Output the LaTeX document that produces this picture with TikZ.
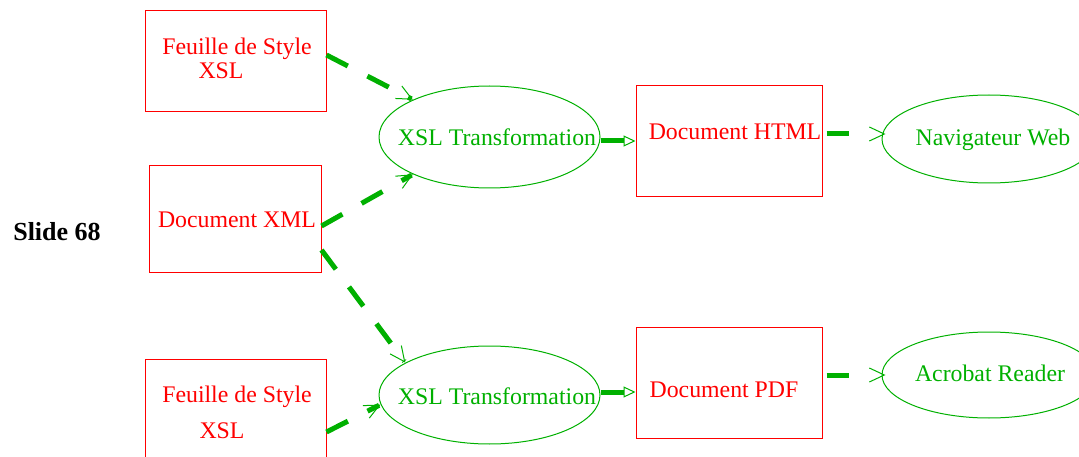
\documentclass[tikz,border=0pt]{standalone}
\usepackage{fontspec}
\setmainfont{Liberation Serif}
\usetikzlibrary{arrows.meta,shapes.geometric}
\definecolor{xgreen}{RGB}{0,176,0}
\definecolor{xred}{RGB}{255,0,0}
\begin{document}
\begin{tikzpicture}[x=1pt,y=-1pt,
  box/.style={draw=xred,line width=1pt,rectangle,inner sep=0pt},
  oval/.style={draw=xgreen,line width=1pt,ellipse,inner sep=0pt},
  rtext/.style={text=xred,font=\fontsize{23.8}{27}\selectfont,inner sep=0pt},
  gtext/.style={text=xgreen,font=\fontsize{23.8}{27}\selectfont,inner sep=0pt},
  dashflow/.style={draw=xgreen,line width=5pt,dash pattern=on 24pt off 22pt,
    -{Straight Barb[length=15pt,width=14pt,line width=1pt]}},
  shortdash/.style={dash pattern=on 22pt off 40pt},
  solidflow/.style={draw=xgreen,line width=5pt,
    -{Triangle[open,length=12pt,width=11pt,line width=1pt]}}]
\useasboundingbox (0,0) rectangle (1079,457);

\node[box,minimum width=181pt,minimum height=101pt] (box1) at (235.5,61.5) {};
\node[rtext] (t1a) at (237,49) {Feuille de Style};
\node[rtext] (t1b) at (221,71) {XSL};

\node[box,minimum width=172pt,minimum height=106pt] (box2) at (235,219) {};
\node[rtext] (t2) at (237,220) {Document XML};

\node[box,minimum width=181pt,minimum height=101pt] (box3) at (235.5,409.5) {};
\node[rtext] (t3a) at (237,397) {Feuille de Style};
\node[rtext] (t3b) at (222,431) {XSL};

\node[oval,minimum width=221pt,minimum height=102pt] (e1) at (489.5,137) {};
\node[gtext] (te1) at (497,137) {XSL Transformation};
\node[oval,minimum width=221pt,minimum height=98pt] (e2) at (489.5,395) {};
\node[gtext] (te2) at (497,396) {XSL Transformation};

\node[box,minimum width=186pt,minimum height=111pt] (html) at (729,141.5) {};
\node[rtext] (th) at (735,132) {Document HTML};
\node[box,minimum width=186pt,minimum height=111pt] (pdf) at (729,382.5) {};
\node[rtext] (tp) at (724,390) {Document PDF};

\node[oval,minimum width=214pt,minimum height=88pt] (nav) at (989,139) {};
\node[gtext] (tn) at (993,140) {Navigateur Web};
\node[oval,minimum width=214pt,minimum height=86pt] (acro) at (989,375) {};
\node[gtext] (ta) at (990,373) {Acrobat Reader};

\node[font=\fontsize{26}{30}\selectfont\bfseries,inner sep=0pt] (slide) at (57,232) {Slide 68};

\draw[dashflow] ([yshift=6.5]box1.east) -- (e1.154);
\draw[dashflow] ([yshift=-7]box2.east) -- (e1.206);
\draw[dashflow] ([yshift=-31]box2.east) -- (e2.159);
\draw[dashflow] ([yshift=-22.5]box3.east) -- (e2.185);
\draw[solidflow] ([yshift=-4]e1.east) -- ([yshift=-4]e1.east -| html.west);
\draw[solidflow] ([yshift=3]e2.east) -- ([yshift=3]e2.east -| pdf.west);
\draw[dashflow,shortdash] ([yshift=7.5,xshift=4]html.east) -- ([yshift=7.5,xshift=4]html.east -| nav.west);
\draw[dashflow,shortdash] ([yshift=7.5,xshift=4]pdf.east) -- ([yshift=7.5,xshift=4]pdf.east -| acro.west);
\end{tikzpicture}
\end{document}
